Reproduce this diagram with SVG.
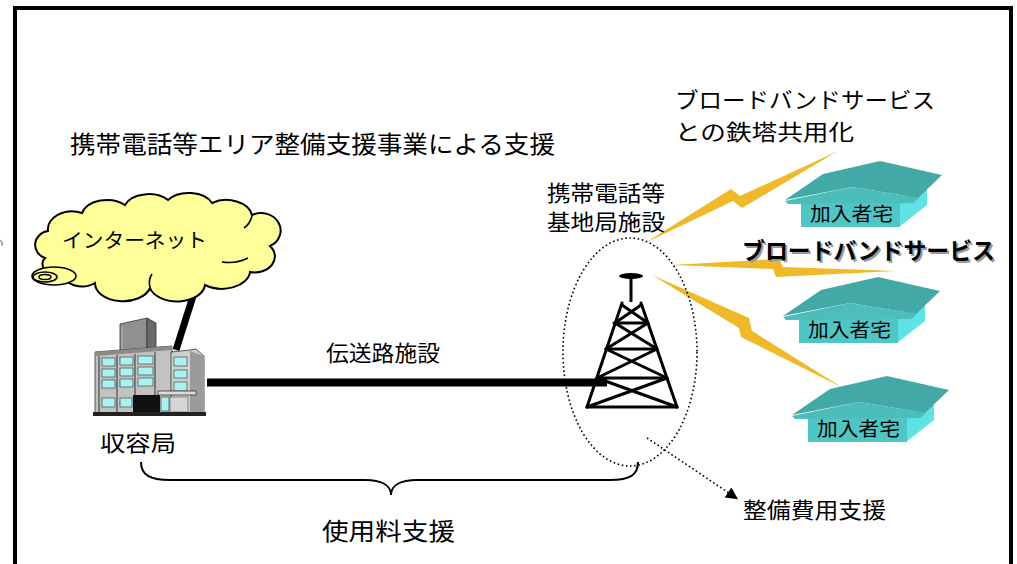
<svg xmlns="http://www.w3.org/2000/svg" xmlns:xlink="http://www.w3.org/1999/xlink" width="1017" height="564" viewBox="0 0 1017 564">
  <style>
    text { font-family: "Noto Sans CJK JP", "Noto Sans", sans-serif; fill: #000; }
    .lbl { font-size: 22px; }
    .big { font-size: 24px; }
    .head { font-size: 22px; }
    .house-lbl { font-size: 19px; }
    .bolt { fill: #F0B929; }
    .wire { stroke: #000; stroke-linecap: butt; fill: none; }
    .truss { stroke: #000; stroke-width: 3; stroke-linecap: round; fill: none; }
    .win { fill: #A9F2F2; stroke: #4a4a4a; stroke-width: 0.7; }
    .roof { fill: #43A9A7; }
    .roof-front { fill: #4DBDBB; }
    .wall { fill: #4FC6C6; }
    .wall-side { fill: #5DE3E3; }
    .puff { fill: none; stroke: #000; stroke-width: 1.6; }
  </style>
  <defs>
    <marker id="arrowHead" viewBox="0 0 10 10" refX="9" refY="5" markerWidth="14" markerHeight="12" markerUnits="userSpaceOnUse" orient="auto">
      <path d="M0,0 L10,5 L0,10 Z" fill="#000"/>
    </marker>
    <!-- subscriber house drawn at its first position; others reuse it with a translate -->
    <g id="houseShape">
      <polygon class="wall-side" points="899,200 927,189 927,205 899,227"/>
      <rect class="wall" x="801" y="200" width="99" height="27"/>
      <polygon class="roof" points="785,200 823,174 880,161 942,175 918,198 852,187"/>
      <polygon class="roof-front" points="785,201 852,187 919,198 913,203 788,204"/>
    </g>
  </defs>

  <!-- frame -->
  <rect x="15" y="8" width="996" height="600" fill="none" stroke="#000" stroke-width="4"/>
  <path d="M0,240 Q3,242 2,246" fill="none" stroke="#999" stroke-width="1.5"/>

  <!-- titles -->
  <text class="big" x="70" y="153" textLength="485" lengthAdjust="spacingAndGlyphs">携帯電話等エリア整備支援事業による支援</text>
  <text class="head" x="675" y="108" textLength="260" lengthAdjust="spacingAndGlyphs">ブロードバンドサービス</text>
  <text class="head" x="675" y="140" textLength="179" lengthAdjust="spacingAndGlyphs">との鉄塔共用化</text>

  <!-- connectors -->
  <g id="connectors">
    <line class="wire" x1="200" y1="274" x2="176" y2="350" stroke-width="7"/>
    <line class="wire" x1="207" y1="382.5" x2="607" y2="382.5" stroke-width="8"/>
    <path d="M141,462 C141,475 150,480 170,480 L365,480 C381,480 391,485 391,495 C391,485 401,480 417,480 L610,480 C630,480 638,475 638,462" fill="none" stroke="#000" stroke-width="2"/>
    <line x1="647" y1="438" x2="737" y2="498.5" stroke="#000" stroke-width="1.6" stroke-dasharray="1.6,2.6" marker-end="url(#arrowHead)"/>
    <!-- radio links -->
    <polygon class="bolt" points="645,243 731,189 740,196 838,151 742,208 733,201"/>
    <polygon class="bolt" points="672,265 779,259 783,267 896,271 776,277 773,269"/>
    <polygon class="bolt" points="652,275 749,318 752,331 843,388 741,337 739,328"/>
  </g>

  <!-- internet cloud -->
  <g id="internet">
    <path d="M45,258 A15,14 0 0,1 48,231 A24,18 0 0,1 82,213 A26,18 0 0,1 125,205 A25,16 0 0,1 168,200 A25,16 0 0,1 212,203 A26,18 0 0,1 252,215 A18,16 0 0,1 270,246 A20,16 0 0,1 250,272 A28,18 0 0,1 205,285 A28,18 0 0,1 150,288 A28,18 0 0,1 95,283 A20,14 0 0,1 62,273 A14,10 0 0,1 45,258 Z" fill="#FFFF99" stroke="#000" stroke-width="2"/>
    <path class="puff" d="M252,216 Q250,224 244,228"/>
    <path class="puff" d="M222,262 Q236,264 248,258"/>
    <path class="puff" d="M150,287 Q148,280 152,274"/>
    <ellipse cx="54" cy="276" rx="22" ry="9" fill="#FFFF99" stroke="#000" stroke-width="1.6"/>
    <ellipse cx="45" cy="277" rx="12" ry="5" fill="none" stroke="#000" stroke-width="1.6"/>
    <ellipse cx="45" cy="277" rx="6" ry="2.5" fill="none" stroke="#000" stroke-width="1.4"/>
    <text x="62" y="248" font-size="20" textLength="145" lengthAdjust="spacingAndGlyphs">インターネット</text>
  </g>

  <!-- accommodation station building -->
  <g id="station">
    <polygon points="120,324 147,318 147,352 120,352" fill="#909090" stroke="#333" stroke-width="0.8"/>
    <polygon points="147,318 156,323 156,352 147,352" fill="#6a6a6a" stroke="#333" stroke-width="0.8"/>
    <line x1="122" y1="326" x2="122" y2="350" stroke="#bbb" stroke-width="1"/>
    <polygon points="95,352 172,346 172,413 95,413" fill="#c2c2c2" stroke="#333" stroke-width="0.8"/>
    <polygon points="95,352 172,346 172,350 95,356" fill="#8a8a8a"/>
    <g stroke="#7a7a7a" stroke-width="2">
      <line x1="99" y1="356" x2="99" y2="412"/>
      <line x1="117" y1="355" x2="117" y2="412"/>
      <line x1="135" y1="354" x2="135" y2="396"/>
      <line x1="155" y1="352" x2="155" y2="396"/>
    </g>
    <rect class="win" x="102" y="358" width="13" height="8"/>
    <rect class="win" x="120" y="357" width="13" height="8"/>
    <rect class="win" x="138" y="356" width="15" height="8"/>
    <rect class="win" x="102" y="369" width="13" height="8"/>
    <rect class="win" x="120" y="368" width="13" height="8"/>
    <rect class="win" x="138" y="367" width="15" height="8"/>
    <rect class="win" x="102" y="380" width="13" height="8"/>
    <rect class="win" x="120" y="379" width="13" height="8"/>
    <rect class="win" x="138" y="378" width="15" height="8"/>
    <rect class="win" x="102" y="398" width="13" height="9"/>
    <rect class="win" x="120" y="398" width="12" height="9"/>
    <rect x="133" y="395" width="27" height="18" fill="#111"/>
    <polygon points="171,352 190,350 196,349 204,356 204,413 171,413" fill="#cfcfcf" stroke="#333" stroke-width="0.8"/>
    <polygon points="190,351 204,356 204,413 190,413" fill="#9b9b9b"/>
    <rect class="win" x="174" y="357" width="13" height="9"/>
    <rect class="win" x="174" y="370" width="13" height="8"/>
    <rect class="win" x="174" y="382" width="13" height="9"/>
    <rect x="158" y="391" width="38" height="4" fill="#ddd" stroke="#333" stroke-width="0.8"/>
    <rect x="161" y="397" width="8" height="14" fill="#A9F2F2" stroke="#444" stroke-width="0.7"/>
    <rect x="170" y="397" width="18" height="15" fill="#d6d6d6" stroke="#555" stroke-width="0.6"/>
    <rect x="93" y="412" width="113" height="4" fill="#222"/>
    <text class="lbl" x="100" y="451" textLength="76" lengthAdjust="spacingAndGlyphs">収容局</text>
  </g>

  <text id="line-label" class="lbl" x="326" y="361" font-size="21" textLength="114" lengthAdjust="spacingAndGlyphs">伝送路施設</text>

  <!-- base station tower -->
  <g id="tower">
    <ellipse cx="630" cy="352" rx="67" ry="114" fill="none" stroke="#000" stroke-width="1.6" stroke-dasharray="1.6,2.6"/>
    <ellipse cx="631" cy="276" rx="12" ry="3" fill="#000"/>
    <line x1="631" y1="277" x2="631" y2="302" stroke="#000" stroke-width="3"/>
    <g class="truss">
      <line x1="622" y1="303" x2="587" y2="407"/>
      <line x1="641" y1="303" x2="677" y2="407"/>
      <line x1="614" y1="323" x2="645" y2="323"/>
      <line x1="606" y1="349" x2="656" y2="349"/>
      <line x1="597" y1="378" x2="666" y2="378"/>
      <line x1="587" y1="407" x2="677" y2="407"/>
      <line x1="622" y1="305" x2="648" y2="323"/>
      <line x1="641" y1="305" x2="615" y2="323"/>
      <line x1="615" y1="323" x2="657" y2="349"/>
      <line x1="648" y1="323" x2="606" y2="349"/>
      <line x1="606" y1="349" x2="667" y2="378"/>
      <line x1="657" y1="349" x2="597" y2="378"/>
      <line x1="597" y1="378" x2="677" y2="407"/>
      <line x1="667" y1="378" x2="587" y2="407"/>
    </g>
    <text class="lbl" x="547" y="201" textLength="118" lengthAdjust="spacingAndGlyphs">携帯電話等</text>
    <text class="lbl" x="547" y="230" textLength="118" lengthAdjust="spacingAndGlyphs">基地局施設</text>
  </g>

  <!-- subscriber houses -->
  <g id="house1">
    <use xlink:href="#houseShape"/>
    <text class="house-lbl" x="810" y="221" textLength="83" lengthAdjust="spacingAndGlyphs">加入者宅</text>
  </g>
  <g id="house2" transform="translate(-2,116)">
    <use xlink:href="#houseShape"/>
    <text class="house-lbl" x="810" y="221" textLength="83" lengthAdjust="spacingAndGlyphs">加入者宅</text>
  </g>
  <g id="house3" transform="translate(7,215)">
    <use xlink:href="#houseShape"/>
    <text class="house-lbl" x="810" y="221" textLength="83" lengthAdjust="spacingAndGlyphs">加入者宅</text>
  </g>

  <!-- broadband service label with drop shadow -->
  <g id="broadband">
    <text x="744" y="261" font-size="23" font-weight="bold" textLength="253" lengthAdjust="spacingAndGlyphs" style="fill:#9a9a9a">ブロードバンドサービス</text>
    <text x="742" y="259" font-size="23" font-weight="bold" textLength="253" lengthAdjust="spacingAndGlyphs">ブロードバンドサービス</text>
  </g>

  <text id="fee-label" class="big" x="322" y="540" textLength="133" lengthAdjust="spacingAndGlyphs">使用料支援</text>
  <text id="cost-label" class="lbl" x="743" y="518" textLength="143" lengthAdjust="spacingAndGlyphs">整備費用支援</text>
</svg>
